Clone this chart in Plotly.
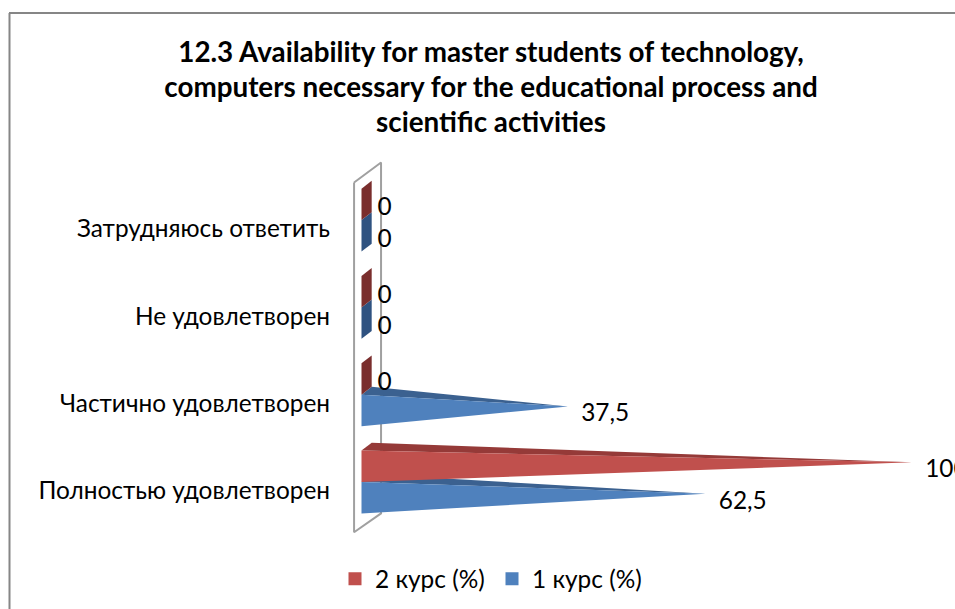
import plotly.graph_objects as go

categories = ["Полностью удовлетворен", "Частично удовлетворен", "Не удовлетворен", "Затрудняюсь ответить"]
course1 = [62.5, 37.5, 0, 0]
course2 = [100, 0, 0, 0]
labels1 = ["62,5", "37,5", "0", "0"]
labels2 = ["100", "0", "0", "0"]
title_lines = ["12.3 Availability for master students of technology,",
               "computers necessary for the educational process and",
               "scientific activities"]

W, H = 955, 609
PX_X0, PX_PER_UNIT = 361.5, 5.505
PX_Y0, PX_PER_CAT = 482.0, 87.3
BAND = 0.36        # height of one cone's base, in category units
DX, DY = 1.85, 0.09  # depth offset of the 3D view

FONT = "Lato, 'Noto Sans', sans-serif"
TEXT = "#000000"
RED, RED_TOP, RED_ZERO = "#C0504D", "#953A38", "#7A2E2D"
BLUE, BLUE_TOP, BLUE_ZERO = "#4F81BD", "#3B6190", "#2F5280"

fig = go.Figure()


def poly(xs, ys, color):
    fig.add_trace(go.Scatter(x=xs, y=ys, mode="lines", fill="toself", fillcolor=color,
                             line=dict(width=0, color=color), hoverinfo="skip", showlegend=False))


# back wall of the 3D plot
wall_x = [-1.35, 3.55, 3.55, -1.35, -1.35]
wall_y = [3.43, 3.66, -0.36, -0.575, 3.43]
fig.add_trace(go.Scatter(x=wall_x, y=wall_y, mode="lines", fill="toself", fillcolor="#FFFFFF",
                         line=dict(color="#A0A0A0", width=2), hoverinfo="skip", showlegend=False))


def cones(values, base_low, base_high, front, top, zero):
    for i, v in enumerate(values):
        lo, hi = i + base_low, i + base_high
        if v == 0:
            poly([0, DX, DX, 0, 0], [hi, hi + DY, lo + DY, lo, hi], zero)
        else:
            apex_y = (lo + hi + DY) / 2
            poly([0, DX, v, 0], [hi, hi + DY, apex_y, hi], top)
            poly([0, v, 0, 0], [hi, apex_y, lo, hi], front)


cones(course1, -BAND, 0, BLUE, BLUE_TOP, BLUE_ZERO)
cones(course2, 0, BAND, RED, RED_TOP, RED_ZERO)


def label_gap(v):
    return 2.9 if v == 0 else 2.4


def label_trace(values, labels, base_low, base_high):
    xs = [v + label_gap(v) for v in values]
    ys = [i + (base_low + base_high + DY) / 2 - 0.1 for i in range(len(values))]
    fig.add_trace(go.Scatter(x=xs, y=ys, mode="text", text=labels, textposition="middle right",
                             textfont=dict(family=FONT, size=24.4, color=TEXT), cliponaxis=False,
                             hoverinfo="skip", showlegend=False))


label_trace(course1, labels1, -BAND, 0)
label_trace(course2, labels2, 0, BAND)

# legend entries
for name, color in [("2 курс (%)", RED), ("1 курс (%)", BLUE)]:
    fig.add_trace(go.Scatter(x=[None], y=[None], mode="markers", name=name,
                             marker=dict(symbol="square", size=13, color=color)))

title_text = "<br>".join(f'<span style="font-size:27.8px">{t}</span>' for t in title_lines)

fig.update_layout(
    width=W, height=H, autosize=False,
    margin=dict(l=0, r=0, t=0, b=0),
    paper_bgcolor="#FFFFFF", plot_bgcolor="rgba(0,0,0,0)",
    title=dict(text=title_text, x=491 / W, xanchor="center", y=1 - 61.5 / H, yanchor="top",
               font=dict(family=FONT, size=27.3, color=TEXT, weight="bold")),
    xaxis=dict(range=[-PX_X0 / PX_PER_UNIT, (W - PX_X0) / PX_PER_UNIT], visible=False, domain=[0, 1]),
    yaxis=dict(range=[(PX_Y0 - H) / PX_PER_CAT, PX_Y0 / PX_PER_CAT], domain=[0, 1],
               anchor="free", position=330 / W, side="left",
               tickmode="array", tickvals=[i - 0.1 for i in range(len(categories))], ticktext=categories,
               showgrid=False, zeroline=False, showline=False, ticks="",
               tickfont=dict(family=FONT, size=24.4, color=TEXT)),
    showlegend=True,
    legend=dict(orientation="h", x=335 / W, xanchor="left", y=1 - 579 / H, yanchor="middle",
                font=dict(family=FONT, size=24.4, color=TEXT), bgcolor="rgba(0,0,0,0)",
                itemwidth=30, traceorder="normal", entrywidth=112, entrywidthmode="pixels"),
    shapes=[dict(type="line", xref="paper", yref="paper", x0=9.5 / W, x1=9.5 / W, y0=0, y1=1 - 13 / H,
                 line=dict(color="#868686", width=2)),
            dict(type="line", xref="paper", yref="paper", x0=9 / W, x1=1, y0=1 - 13 / H, y1=1 - 13 / H,
                 line=dict(color="#868686", width=2))],
)

fig.write_html("out.html", config={"displayModeBar": False},
               post_script="document.body.style.margin='0';document.body.style.overflow='hidden';")
